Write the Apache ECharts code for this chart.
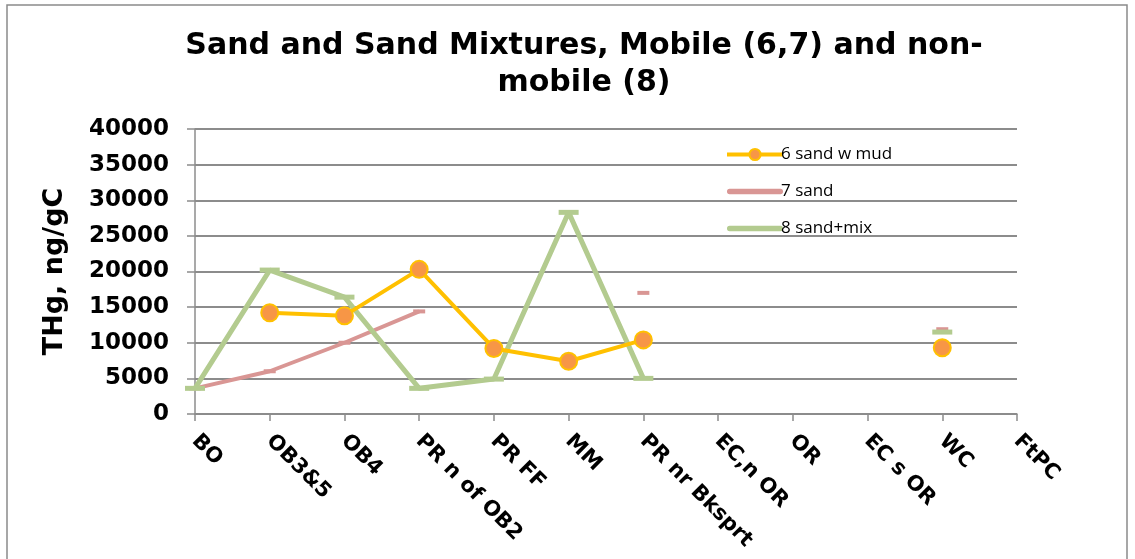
<!DOCTYPE html>
<html>
<head>
<meta charset="utf-8">
<script src="https://cdn.jsdelivr.net/npm/echarts@6/dist/echarts.min.js"></script>
<style>html,body{margin:0;padding:0;background:#fff}#c{width:1135px;height:559px}</style>
</head>
<body>
<div id="c"></div>
<script>
const categories = ['BO','OB3&5','OB4','PR n of OB2','PR FF','MM','PR nr Bksprt','EC,n OR','OR','EC s OR','WC','FtPC'];
const sandMud = [null,14200,13800,20300,9200,7400,10400,null,null,null,9300,null];
const sand = [3600,6000,10000,14400,null,null,17000,null,null,null,11900,null];
const sandMix = [3600,20200,16400,3600,4900,28300,5000,null,null,null,11500,null];
const yTicks = [0,5000,10000,15000,20000,25000,30000,35000,40000];

const chart = echarts.init(document.getElementById('c'));
const bold = {fontFamily:'DejaVu Sans, sans-serif', fontWeight:'bold', color:'#000'};
const bar = 'path://M2,0 L50,0 A2.5,2.5 0 0 1 50,5 L2,5 A2.5,2.5 0 0 1 2,0 Z';
chart.setOption({
  animation:false,
  backgroundColor:'#fff',
  graphic:[{type:'rect',shape:{x:7,y:5,width:1120,height:570},style:{fill:'none',stroke:'#8a8a8a',lineWidth:1.5},silent:true,z:-1}],
  title:{
    text:'Sand and Sand Mixtures, Mobile (6,7) and non-\nmobile (8)',
    left:579, top:23, textAlign:'center',
    textStyle:Object.assign({}, bold, {fontSize:30, lineHeight:37})
  },
  legend:{
    orient:'vertical', left:720, top:141, itemGap:20, itemWidth:56, itemHeight:14,
    textStyle:{fontFamily:'Open Sans, sans-serif', fontSize:17, color:'#000', padding:[0,0,0,-7]},
    data:[
      {name:'6 sand w mud', lineStyle:{width:4}},
      {name:'7 sand', icon:bar},
      {name:'8 sand+mix', icon:bar}
    ]
  },
  grid:{left:195, right:118, top:129, bottom:145, containLabel:false},
  xAxis:{
    type:'category', data:categories, boundaryGap:false,
    axisLine:{lineStyle:{color:'#8c8c8c', width:1.5}},
    axisTick:{show:true, alignWithLabel:true, length:7, lineStyle:{color:'#8c8c8c', width:1.5}},
    axisLabel:Object.assign({}, bold, {fontSize:21, rotate:-45, margin:24, interval:0}),
    splitLine:{show:false}
  },
  yAxis:{
    type:'value', min:0, max:40000, interval:5000,
    name:'THg, ng/gC', nameLocation:'middle', nameGap:127, nameRotate:90,
    nameTextStyle:Object.assign({}, bold, {fontSize:27}),
    axisLine:{show:true, lineStyle:{color:'#8c8c8c', width:1.5}},
    axisTick:{show:true, length:8, lineStyle:{color:'#8c8c8c', width:1.5}},
    axisLabel:Object.assign({}, bold, {fontSize:23, margin:26, formatter:v=>yTicks.includes(v)?String(v):''}),
    splitLine:{show:true, lineStyle:{color:'#8c8c8c', width:1.8}}
  },
  series:[
    {name:'7 sand', type:'line', data:sand, connectNulls:false, z:2,
     lineStyle:{color:'#D99694', width:4}, itemStyle:{color:'#D99694'},
     symbol:'rect', symbolSize:[12,4], showAllSymbol:true},
    {name:'8 sand+mix', type:'line', data:sandMix, connectNulls:false, z:3,
     lineStyle:{color:'#B3CB8F', width:5}, itemStyle:{color:'#B3CB8F'},
     symbol:'rect', symbolSize:[20,5], showAllSymbol:true},
    {name:'6 sand w mud', type:'line', data:sandMud, connectNulls:false, z:4,
     lineStyle:{color:'#FFC000', width:4}, itemStyle:{color:'#F79646', borderColor:'#FFC000', borderWidth:2},
     symbol:'circle', symbolSize:17, showAllSymbol:true}
  ]
});
</script>
</body>
</html>
